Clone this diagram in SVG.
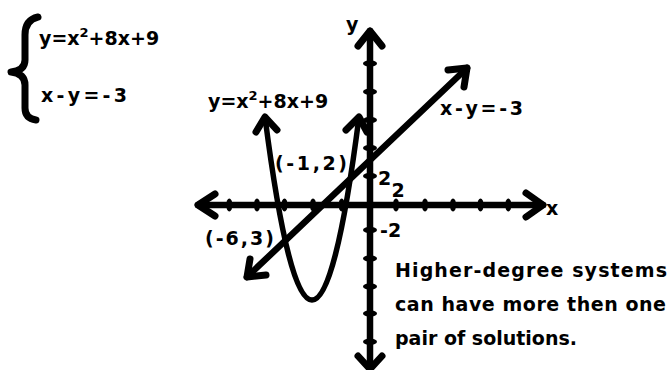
<svg xmlns="http://www.w3.org/2000/svg" width="669" height="370" viewBox="0 0 669 370">
<style>
.t{font-family:"DejaVu Sans","Liberation Sans",sans-serif;font-weight:bold;font-size:19px;fill:#000}
.s{fill:none;stroke:#000;stroke-linecap:round;stroke-linejoin:round}
.ax{stroke-width:6.5}
.ah{stroke-width:7}
.tk{fill:#000}
</style>
<rect width="669" height="370" fill="#fff"/>
<g id="system">
<path class="s" stroke-width="7" d="M38,17 C29,19 25,25 25,35 L25,60 C25,67 20,71 11,72 C20,73 25,77 25,85 L25,108 C25,115 29,119 36,120"/>
<text class="t" x="39" y="45">y=x<tspan font-size="13" dy="-8">2</tspan><tspan dy="8">+8x+9</tspan></text>
<text class="t" x="41" y="101.5" textLength="86">x-y=-3</text>
</g>
<g id="axes">
<path class="s ax" d="M198,205 H543 M370,31 V370"/>
<path class="s ah" d="M215,194 L198,205 L215,216 M526,193 L543,205 L526,217 M358,46 L370,31 L382,46 M358,356 L370,369 L382,356"/>
<g class="tk">
<ellipse cx="229.3" cy="205" rx="3.2" ry="6.5"/>
<ellipse cx="257" cy="205" rx="3.2" ry="6.5"/>
<ellipse cx="284.5" cy="205" rx="3.2" ry="6.5"/>
<ellipse cx="313" cy="205" rx="3.2" ry="6.5"/>
<ellipse cx="341.7" cy="205" rx="3.2" ry="6.5"/>
<ellipse cx="396" cy="205" rx="3.2" ry="6.5"/>
<ellipse cx="425" cy="205" rx="3.2" ry="6.5"/>
<ellipse cx="453" cy="205" rx="3.2" ry="6.5"/>
<ellipse cx="480.5" cy="205" rx="3.2" ry="6.5"/>
<ellipse cx="508.3" cy="205" rx="3.2" ry="6.5"/>
<ellipse cx="370" cy="63.5" rx="7" ry="3.2"/>
<ellipse cx="370" cy="91.8" rx="7" ry="3.2"/>
<ellipse cx="370" cy="120" rx="7" ry="3.2"/>
<ellipse cx="370" cy="148" rx="7" ry="3.2"/>
<ellipse cx="370" cy="176" rx="7" ry="3.2"/>
<ellipse cx="370" cy="230" rx="7" ry="3.2"/>
<ellipse cx="370" cy="258.5" rx="7" ry="3.2"/>
<ellipse cx="370" cy="286.5" rx="7" ry="3.2"/>
<ellipse cx="370" cy="313.5" rx="7" ry="3.2"/>
<ellipse cx="370" cy="341.7" rx="7" ry="3.2"/>
</g>
<text class="t" x="346" y="31">y</text>
<text class="t" x="546" y="215">x</text>
<text class="t" font-size="18" x="378" y="185">2</text>
<text class="t" font-size="18" x="391.5" y="197">2</text>
<text class="t" font-size="18" x="380" y="237">-2</text>
</g>
<g id="parabola">
<path class="s" stroke-width="5.5" d="M265,117 Q312,483 359,117"/>
<path class="s ah" d="M256,132 L265,117 L277,130 M346,130 L359,117 L367,132"/>
<text class="t" x="208" y="108">y=x<tspan font-size="13" dy="-8">2</tspan><tspan dy="8">+8x+9</tspan></text>
</g>
<g id="line">
<path class="s ax" d="M247,277 L467,68"/>
<path class="s ah" d="M250,259 L247,277 L266,275 M448,70 L467,68 L464,87"/>
<text class="t" x="440" y="115" textLength="83">x-y=-3</text>
</g>
<g id="solutions">
<text class="t" x="275" y="170" textLength="72">(-1,2)</text>
<text class="t" x="205" y="245" textLength="69">(-6,3)</text>
</g>
<g id="note">
<text class="t" x="395" y="277" textLength="272">Higher-degree systems</text>
<text class="t" x="395" y="311" textLength="271">can have more then one</text>
<text class="t" x="395" y="345">pair of solutions.</text>
</g>
</svg>
